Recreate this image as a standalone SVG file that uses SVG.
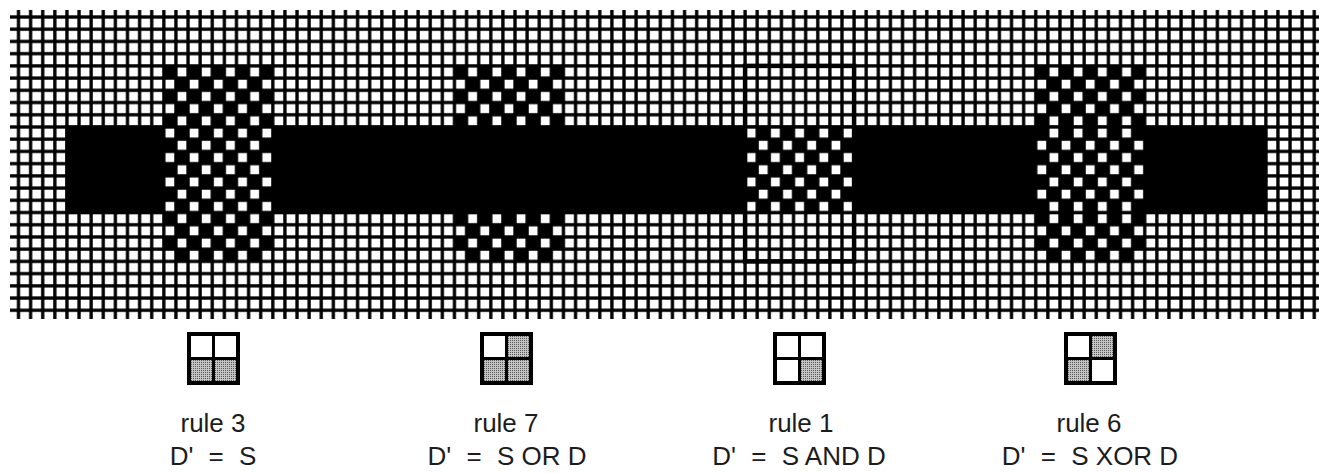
<svg xmlns="http://www.w3.org/2000/svg" width="1319" height="473" viewBox="0 0 1319 473">
<defs>
<pattern id="grid" patternUnits="userSpaceOnUse" x="18.5" y="17" width="12.11" height="12.22">
<rect x="0" y="0" width="12.11" height="12.22" fill="#fff"/>
<path d="M0 0H12.11V12.22H0Z" fill="none" stroke="#000" stroke-width="3.3"/>
</pattern>
<pattern id="chk" patternUnits="userSpaceOnUse" x="18.5" y="17" width="24.22" height="24.44">
<rect x="0" y="0" width="12.11" height="12.22" fill="#000"/>
<rect x="12.11" y="12.22" width="12.11" height="12.22" fill="#000"/>
</pattern>
<pattern id="chk2" patternUnits="userSpaceOnUse" x="18.5" y="17" width="24.22" height="24.44">
<rect x="12.11" y="0" width="12.11" height="12.22" fill="#000"/>
<rect x="0" y="12.22" width="12.11" height="12.22" fill="#000"/>
</pattern>
<pattern id="stip" patternUnits="userSpaceOnUse" width="2" height="2">
<rect width="2" height="2" fill="#c4c4c4"/>
<rect width="1" height="1" fill="#5a5a5a"/>
</pattern>
</defs>
<style>
.lbl{font-family:"Liberation Sans",Arial,sans-serif;font-size:26px;fill:#1c1c1c;text-anchor:middle}
.frame{fill:#000}
.w{fill:#fff}
.g{fill:url(#stip)}
</style>
<rect width="1319" height="473" fill="#fff"/>
<g id="grid-field">
<rect x="10" y="10" width="1309" height="309" fill="url(#grid)"/>
</g>
<g id="bar">
<rect x="65.44" y="125.48" width="1201.89" height="88.54" fill="#000"/>
</g>
<g id="block-rule3">
<rect x="163.82" y="65.88" width="108.99" height="195.52" fill="url(#grid)"/>
<rect x="163.82" y="65.88" width="108.99" height="195.52" fill="url(#chk)"/>
</g>
<g id="block-rule7">
<rect x="454.46" y="65.88" width="108.99" height="195.52" fill="url(#chk)"/>
</g>
<g id="block-rule1">
<rect x="745.1" y="126.98" width="108.99" height="85.54" fill="url(#grid)"/>
<rect x="745.1" y="126.98" width="108.99" height="85.54" fill="url(#chk)"/>
<rect x="745.1" y="65.88" width="108.99" height="195.52" fill="none" stroke="#000" stroke-width="4.5"/>
</g>
<g id="block-rule6">
<rect x="1035.74" y="126.98" width="108.99" height="85.54" fill="url(#grid)"/>
<rect x="1035.74" y="126.98" width="108.99" height="85.54" fill="url(#chk2)"/>
<rect x="1035.74" y="65.88" width="108.99" height="61.1" fill="url(#chk)"/>
<rect x="1035.74" y="212.52" width="108.99" height="48.88" fill="url(#chk)"/>
</g>
<g id="icon-rule3" transform="translate(187 332)">
<rect class="frame" width="53" height="53"/>
<rect class="w" x="4" y="4" width="21" height="21"/>
<rect class="w" x="28" y="4" width="21" height="21"/>
<rect class="g" x="4" y="28" width="21" height="21"/>
<rect class="g" x="28" y="28" width="21" height="21"/>
</g>
<g id="icon-rule7" transform="translate(480 332)">
<rect class="frame" width="53" height="53"/>
<rect class="w" x="4" y="4" width="21" height="21"/>
<rect class="g" x="28" y="4" width="21" height="21"/>
<rect class="g" x="4" y="28" width="21" height="21"/>
<rect class="g" x="28" y="28" width="21" height="21"/>
</g>
<g id="icon-rule1" transform="translate(773 332)">
<rect class="frame" width="53" height="53"/>
<rect class="w" x="4" y="4" width="21" height="21"/>
<rect class="w" x="28" y="4" width="21" height="21"/>
<rect class="w" x="4" y="28" width="21" height="21"/>
<rect class="g" x="28" y="28" width="21" height="21"/>
</g>
<g id="icon-rule6" transform="translate(1064 332)">
<rect class="frame" width="53" height="53"/>
<rect class="w" x="4" y="4" width="21" height="21"/>
<rect class="g" x="28" y="4" width="21" height="21"/>
<rect class="g" x="4" y="28" width="21" height="21"/>
<rect class="w" x="28" y="28" width="21" height="21"/>
</g>
<g id="label-rule3">
<text class="lbl" x="213" y="432">rule 3</text>
<text class="lbl" x="213" y="465">D' <tspan dx="8">= </tspan><tspan dx="8">S</tspan></text>
</g>
<g id="label-rule7">
<text class="lbl" x="506" y="432">rule 7</text>
<text class="lbl" x="507" y="465">D' <tspan dx="8">= </tspan><tspan dx="8">S OR D</tspan></text>
</g>
<g id="label-rule1">
<text class="lbl" x="801" y="432">rule 1</text>
<text class="lbl" x="799" y="465">D' <tspan dx="8">= </tspan><tspan dx="8">S AND D</tspan></text>
</g>
<g id="label-rule6">
<text class="lbl" x="1089" y="432">rule 6</text>
<text class="lbl" x="1090" y="465">D' <tspan dx="8">= </tspan><tspan dx="8">S XOR D</tspan></text>
</g>
</svg>
